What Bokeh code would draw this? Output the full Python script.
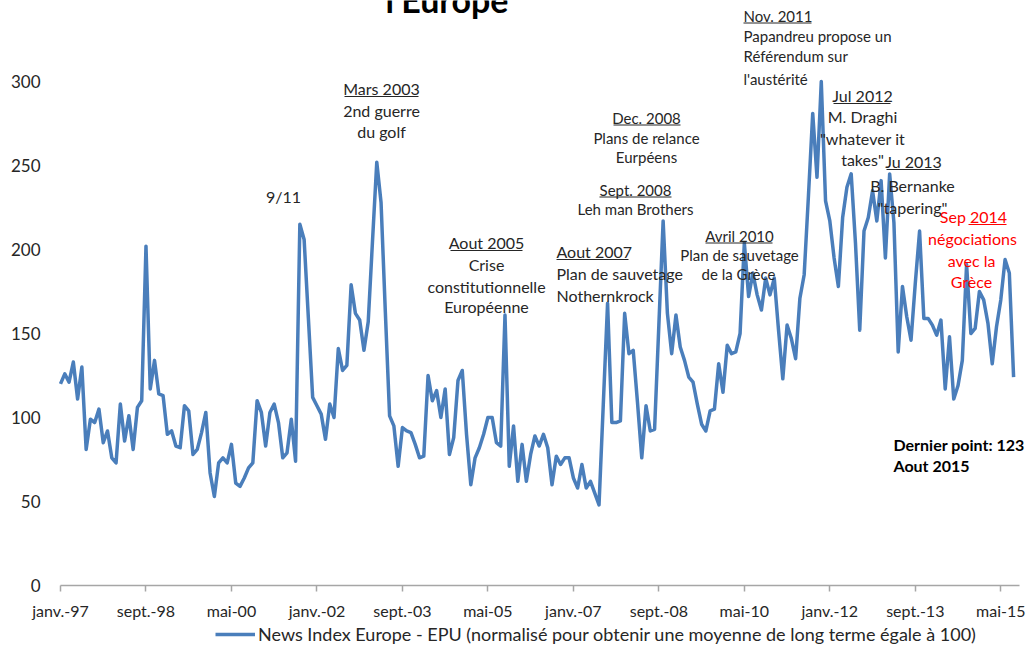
from bokeh.plotting import figure
from bokeh.models import Range1d, FixedTicker, Legend, LegendItem
from bokeh.embed import file_html
from bokeh.resources import INLINE
from bokeh.core.properties import value

# ---------------- data ----------------
# Monthly News-based EPU index for Europe, janv. 1997 -> aout 2015
epu = [120, 126, 121, 133, 111, 130, 81, 99, 97, 105,
       85, 92, 76, 73, 108, 86, 101, 81, 106, 110,
       202, 117, 134, 114, 113, 90, 92, 83, 82, 107,
       104, 78, 81, 91, 103, 67, 53, 73, 76, 73,
       84, 61, 59, 64, 70, 73, 110, 103, 83, 103,
       108, 97, 76, 79, 99, 74, 215, 206, 159, 112,
       107, 102, 87, 108, 100, 141, 128, 131, 179, 162,
       158, 140, 157, 205, 252, 228, 163, 101, 95, 71,
       94, 92, 91, 84, 76, 77, 125, 110, 116, 100,
       117, 78, 88, 122, 128, 90, 60, 76, 82, 90,
       100, 100, 85, 83, 161, 71, 95, 62, 84, 62,
       78, 89, 83, 90, 82, 60, 77, 72, 76, 76,
       64, 58, 72, 58, 62, 55, 48, 108, 168, 97,
       97, 98, 162, 138, 140, 109, 76, 107, 92, 93,
       155, 217, 162, 138, 161, 142, 134, 124, 121, 108,
       96, 92, 104, 105, 132, 115, 143, 138, 139, 150,
       204, 172, 186, 173, 164, 183, 173, 183, 152, 123,
       155, 147, 135, 171, 185, 232, 281, 243, 300, 229,
       217, 195, 178, 219, 237, 245, 204, 152, 211, 219,
       235, 217, 241, 195, 245, 216, 139, 178, 160, 146,
       180, 211, 159, 159, 155, 149, 158, 117, 148, 111,
       119, 134, 191, 150, 153, 175, 170, 156, 132, 154,
       170, 194, 186, 124]
months = list(range(len(epu)))

tick_months = [0, 20, 40, 60, 80, 100, 120, 140, 160, 180, 200, 220]
tick_labels = ["janv.-97", "sept.-98", "mai-00", "janv.-02", "sept.-03", "mai-05",
               "janv.-07", "sept.-08", "mai-10", "janv.-12", "sept.-13", "mai-15"]
y_ticks = [0, 50, 100, 150, 200, 250, 300]
series_label = "News Index Europe - EPU (normalisé pour obtenir une moyenne de long terme égale à 100)"
title_text = "l'Europe"

# annotation texts
ann_text = ["9/11",
            "Mars 2003", "2nd guerre", "du golf",
            "Aout 2005", "Crise", "constitutionnelle", "Européenne",
            "Aout 2007", "Plan de sauvetage", "Nothernkrock",
            "Dec. 2008", "Plans de relance", "Eurpéens",
            "Sept. 2008", "Leh man Brothers",
            "Avril 2010", "Plan de sauvetage", "de la Grèce",
            "Nov. 2011", "Papandreu propose un", "Référendum sur", "l'austérité",
            "Jul 2012", "M. Draghi", "\"whatever it", "takes\"",
            "Ju 2013", "B. Bernanke", "\"tapering\"",
            "Sep 2014", "négociations", "avec la", "Grèce",
            "Dernier point:  123", "Aout 2015"]

# ---------------- layout / style (screen pixels) ----------------
W, H = 1029, 648
X0_PX, XEND_PX, AXIS_Y = 60, 1018.5, 585   # month 0, end of axis line, value 0
PX_PER_MONTH = 4.274
PX_PER_UNIT = 1.68
FONT = "Lato"
TXT = "#262626"
RED = "#FF0000"
BLUE = "#4A7EBB"

# per annotation: (x px, y px, size, align, bold, color, underline px span or None)
ann_style = [
    (283, 196, 16, "center", False, TXT, None),
    (381, 88, 16, "center", False, TXT, (344, 418)),
    (381, 110, 16, "center", False, TXT, None),
    (381, 131, 16, "center", False, TXT, None),
    (486, 242, 16, "center", False, TXT, (450, 522)),
    (486, 264, 16, "center", False, TXT, None),
    (486, 286, 16, "center", False, TXT, None),
    (486, 306, 16, "center", False, TXT, None),
    (556, 251, 16, "left", False, TXT, (556, 628)),
    (556, 273, 16, "left", False, TXT, None),
    (556, 295, 16, "left", False, TXT, None),
    (646, 117, 15, "center", False, TXT, (613, 680)),
    (646, 137, 15, "center", False, TXT, None),
    (646, 156, 15, "center", False, TXT, None),
    (635, 189, 15, "center", False, TXT, (599, 671)),
    (635, 208, 15, "center", False, TXT, None),
    (739, 235, 15, "center", False, TXT, (705, 772)),
    (739, 254, 15, "center", False, TXT, None),
    (738, 273, 15, "center", False, TXT, None),
    (743, 15, 15, "left", False, TXT, (743, 811)),
    (743, 35, 15, "left", False, TXT, None),
    (743, 55, 15, "left", False, TXT, None),
    (743, 78, 15, "left", False, TXT, None),
    (862, 95, 16, "center", False, TXT, (833, 890)),
    (862, 116, 16, "center", False, TXT, None),
    (862, 138, 16, "center", False, TXT, None),
    (862, 159, 16, "center", False, TXT, None),
    (913, 161, 16, "center", False, TXT, (886, 939)),
    (912, 185, 16, "center", False, TXT, None),
    (912, 207, 16, "center", False, TXT, None),
    (973, 216, 16, "center", False, RED, (968, 1006)),
    (972, 238, 16, "center", False, RED, None),
    (971, 260, 16, "center", False, RED, None),
    (971, 281, 16, "center", False, RED, None),
    (893, 444, 16, "left", True, "#000000", None),
    (893, 465, 16, "left", True, "#000000", None),
]


def dx(px):
    return (px - X0_PX) / PX_PER_MONTH


def dy(py):
    return (AXIS_Y - py) / PX_PER_UNIT


# the frame fills the whole canvas; both axes are pinned at 0
p = figure(width=W, height=H, output_backend="svg", toolbar_location=None,
           x_range=Range1d(dx(0), dx(W)), y_range=Range1d(dy(H), dy(0)),
           min_border_left=0, min_border_right=0,
           min_border_top=0, min_border_bottom=0)
p.outline_line_color = None
p.grid.visible = False
p.background_fill_color = "white"
p.border_fill_color = "white"

r = p.line(months, epu, line_color=BLUE, line_width=3.5, line_join="round")

xa = p.xaxis[0]
xa.fixed_location = 0
xa.bounds = (0, dx(XEND_PX))
xa.ticker = FixedTicker(ticks=tick_months)
xa.major_label_overrides = {m: l for m, l in zip(tick_months, tick_labels)}
xa.axis_line_color = "#A6A6A6"
xa.axis_line_width = 1.5
xa.major_tick_line_color = "#A6A6A6"
xa.major_tick_line_width = 1.5
xa.major_tick_out = 6
xa.major_tick_in = 0
xa.minor_tick_line_color = None
xa.major_label_standoff = 9
xa.major_label_text_font = FONT
xa.major_label_text_font_size = "16px"
xa.major_label_text_color = TXT

ya = p.yaxis[0]
ya.fixed_location = 0
ya.ticker = FixedTicker(ticks=y_ticks)
ya.axis_line_color = None
ya.major_tick_line_color = None
ya.minor_tick_line_color = None
ya.major_tick_out = 0
ya.major_tick_in = 0
ya.major_label_standoff = 20
ya.major_label_text_font = FONT
ya.major_label_text_font_size = "17px"
ya.major_label_text_color = TXT

# partially visible title at the very top
p.text(x=[dx(385)], y=[dy(-1)], text=[title_text], text_font=value(FONT),
       text_font_size="34px", text_font_style="bold", text_color="#000000",
       text_align="left", text_baseline="middle")

for t, (px, py, fs, al, bold, col, ul) in zip(ann_text, ann_style):
    p.text(x=[dx(px)], y=[dy(py)], text=[t], text_font=value(FONT),
           text_font_size=f"{fs}px", text_font_style="bold" if bold else "normal",
           text_color=col, text_align=al, text_baseline="middle")
    if ul is not None:
        uy = dy(py + 0.5 * fs)
        p.segment(x0=[dx(ul[0])], y0=[uy], x1=[dx(ul[1])], y1=[uy],
                  line_color=col, line_width=1)

# legend under the axis (offset in px from the canvas' bottom-left corner)
legend = Legend(items=[LegendItem(label=series_label, renderers=[r])],
                location=(215, 3), orientation="horizontal",
                glyph_width=40, glyph_height=18, label_standoff=3,
                label_text_font=FONT, label_text_font_size="18px",
                label_text_color=TXT, padding=0, margin=0, spacing=0,
                border_line_color=None, background_fill_alpha=0)
p.add_layout(legend)

open("out.html", "w").write(file_html(p, INLINE))
